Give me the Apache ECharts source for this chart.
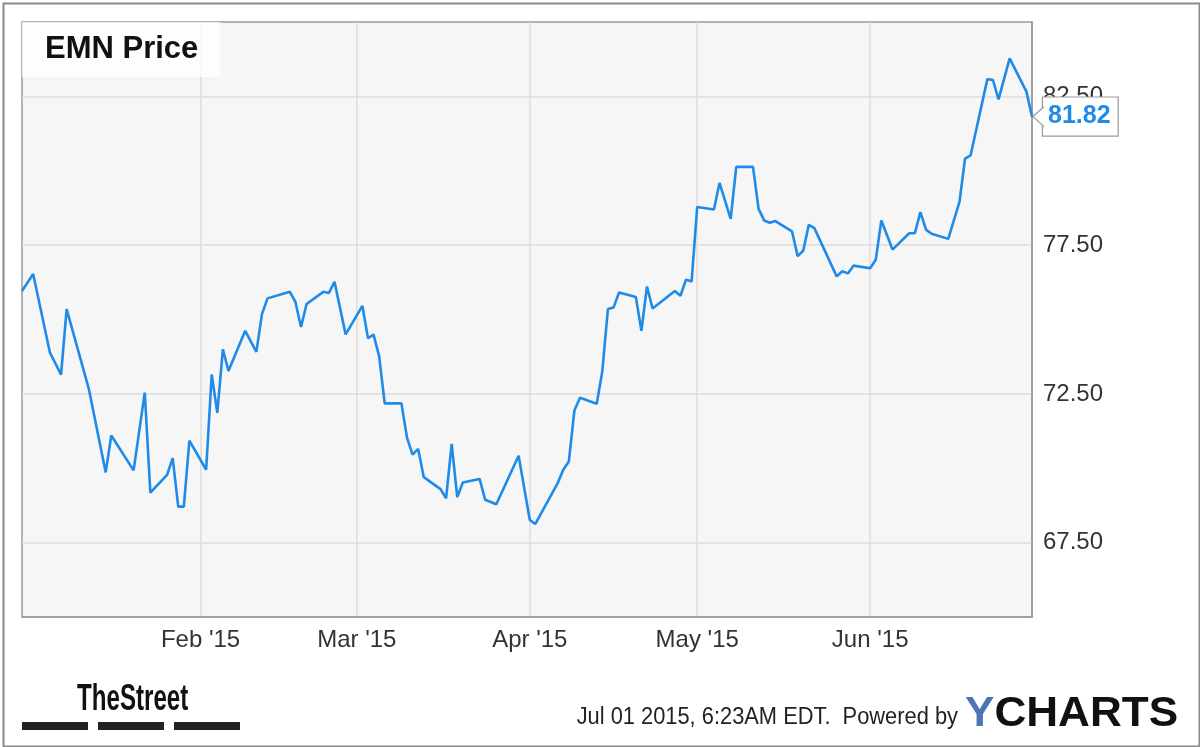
<!DOCTYPE html>
<html>
<head>
<meta charset="utf-8">
<script src="https://cdn.jsdelivr.net/npm/echarts@6/dist/echarts.min.js"></script>
<style>
html,body{margin:0;padding:0;background:#fff;}
#c{width:1200px;height:747px;}
</style>
</head>
<body>
<div id="c"></div>
<script>
// ---- data ----
const dates = [
 '2014-12-31','2015-01-02','2015-01-05','2015-01-07','2015-01-08','2015-01-12','2015-01-15','2015-01-16',
 '2015-01-20','2015-01-22','2015-01-23','2015-01-26','2015-01-27','2015-01-28','2015-01-29','2015-01-30',
 '2015-02-02','2015-02-03','2015-02-04','2015-02-05','2015-02-06','2015-02-09','2015-02-11','2015-02-12',
 '2015-02-13','2015-02-17','2015-02-18','2015-02-19','2015-02-20','2015-02-23','2015-02-24','2015-02-25',
 '2015-02-27','2015-03-02','2015-03-03','2015-03-04','2015-03-05','2015-03-06','2015-03-09','2015-03-10',
 '2015-03-11','2015-03-12','2015-03-13','2015-03-16','2015-03-17','2015-03-18','2015-03-19','2015-03-20',
 '2015-03-23','2015-03-24','2015-03-26','2015-03-30','2015-04-01','2015-04-02','2015-04-06','2015-04-07',
 '2015-04-08','2015-04-09','2015-04-10','2015-04-13','2015-04-14','2015-04-15','2015-04-16','2015-04-17',
 '2015-04-20','2015-04-21','2015-04-22','2015-04-23','2015-04-27','2015-04-28','2015-04-29','2015-04-30',
 '2015-05-01','2015-05-04','2015-05-05','2015-05-07','2015-05-08','2015-05-11','2015-05-12','2015-05-13',
 '2015-05-14','2015-05-15','2015-05-18','2015-05-19','2015-05-20','2015-05-21','2015-05-22','2015-05-26',
 '2015-05-27','2015-05-28','2015-05-29','2015-06-01','2015-06-02','2015-06-03','2015-06-05','2015-06-08',
 '2015-06-09','2015-06-10','2015-06-11','2015-06-12','2015-06-15','2015-06-17','2015-06-18','2015-06-19',
 '2015-06-22','2015-06-23','2015-06-24','2015-06-26','2015-06-29','2015-06-30'
];
const prices = [
 75.96,76.53,73.89,73.15,75.35,72.65,69.86,71.10,
 69.93,72.54,69.18,69.78,70.34,68.71,68.71,70.93,
 69.95,73.15,71.86,74.00,73.27,74.62,73.91,75.18,
 75.71,75.93,75.59,74.75,75.52,75.93,75.89,76.27,
 74.50,75.46,74.37,74.49,73.77,72.18,72.18,71.02,
 70.46,70.65,69.70,69.30,68.99,70.82,69.03,69.52,
 69.64,68.94,68.79,70.42,68.26,68.13,69.50,69.95,
 70.23,71.95,72.37,72.17,73.27,75.35,75.40,75.91,
 75.76,74.62,76.11,75.37,75.96,75.80,76.34,76.28,
 78.78,78.70,79.59,78.38,80.13,80.13,78.72,78.33,
 78.25,78.31,77.96,77.13,77.31,78.18,78.07,76.45,
 76.62,76.55,76.81,76.72,77.01,78.33,77.35,77.90,
 77.90,78.61,78.02,77.88,77.71,78.95,80.41,80.52,
 83.08,83.05,82.40,83.78,82.66,81.82
];
const xTickDates = ['2015-02-01','2015-03-01','2015-04-01','2015-05-01','2015-06-01'];
const yTickValues = [67.5, 72.5, 77.5, 82.5];
const monthNames = ['Jan','Feb','Mar','Apr','May','Jun','Jul','Aug','Sep','Oct','Nov','Dec'];
const titleText = 'EMN Price';
const footerText = 'Jul 01 2015, 6:23AM EDT.  Powered by';

// ---- chart ----
const toTs = s => { const p = s.split('-').map(Number); return Date.UTC(p[0], p[1] - 1, p[2]); };
const chart = echarts.init(document.getElementById('c'), null, {renderer:'canvas'});
const seriesData = dates.map((d, i) => [toTs(d), prices[i]]);
const xTicks = xTickDates.map(toTs);
const FONT = "'Liberation Sans', Arial, sans-serif";
const BLUE = '#1f8ae8';

const option = {
  animation: false,
  backgroundColor: '#ffffff',
  title: {
    text: titleText,
    left: 22, top: 22,
    padding: [12, 22, 12, 23],
    backgroundColor: 'rgba(255,255,255,0.75)',
    textStyle: {fontFamily: FONT, fontWeight: 'bold', fontSize: 31, lineHeight: 31, color: '#111'}
  },
  grid: {
    left: 22, right: 168, top: 22, bottom: 130,
    show: true, backgroundColor: '#f6f6f6', borderColor: '#9a9a9a', borderWidth: 1.5
  },
  xAxis: {
    type: 'value',
    min: toTs(dates[0]), max: toTs(dates[dates.length - 1]),
    axisLine: {show: true, lineStyle: {color: '#9a9a9a', width: 1.5}},
    axisTick: {show: false, customValues: xTicks},
    splitLine: {show: true, lineStyle: {color: '#dcdcdc', width: 1.5}},
    axisLabel: {
      customValues: xTicks,
      margin: 11,
      showMinLabel: true, showMaxLabel: true, hideOverlap: false,
      fontFamily: FONT, fontSize: 24, color: '#333',
      formatter: v => { const d = new Date(v); return monthNames[d.getUTCMonth()] + " '" + String(d.getUTCFullYear()).slice(2); }
    }
  },
  yAxis: {
    type: 'value', position: 'right',
    min: 65, max: 85,
    axisLine: {show: true, lineStyle: {color: '#9a9a9a', width: 1.5}},
    axisTick: {show: false, customValues: yTickValues},
    splitLine: {show: true, lineStyle: {color: '#dcdcdc', width: 1.5}},
    axisLabel: {
      customValues: yTickValues,
      margin: 11,
      showMinLabel: true, showMaxLabel: true,
      fontFamily: FONT, fontSize: 24, color: '#333',
      formatter: v => v.toFixed(2)
    }
  },
  series: [{
    type: 'line',
    data: seriesData,
    showSymbol: false,
    symbol: 'none',
    lineStyle: {color: BLUE, width: 2.6},
    itemStyle: {color: BLUE},
    z: 5,
    endLabel: {
      show: true,
      distance: 11,
      formatter: p => p.value[1].toFixed(2),
      fontFamily: FONT, fontWeight: 'bold', fontSize: 25, color: BLUE,
      backgroundColor: '#ffffff', borderColor: '#9a9a9a', borderWidth: 1.2,
      padding: [6, 7, 4, 5], lineHeight: 28
    },
    markPoint: {
      silent: true,
      z: 10,
      symbol: 'path://M11,0 L0,10 L11,20',
      symbolSize: [11, 20],
      symbolOffset: [6.5, 0],
      symbolKeepAspect: false,
      itemStyle: {color: '#ffffff', borderColor: '#9a9a9a', borderWidth: 1.2},
      label: {show: false},
      data: [{coord: seriesData[seriesData.length - 1]}]
    }
  }],
  graphic: [
    {type: 'rect', left: 1, top: 1, shape: {width: 1196, height: 743},
     style: {fill: 'none', stroke: '#8a8a8a', lineWidth: 2}, silent: true},
    {type: 'text', left: 77, top: 682,
     style: {text: 'TheStreet', font: "bold 36px 'Liberation Sans', Arial, sans-serif", fill: '#111'},
     scaleX: 0.67},
    {type: 'rect', left: 22, top: 722, shape: {width: 66, height: 8}, style: {fill: '#222'}},
    {type: 'rect', left: 98, top: 722, shape: {width: 66, height: 8}, style: {fill: '#222'}},
    {type: 'rect', left: 174, top: 722, shape: {width: 66, height: 8}, style: {fill: '#222'}},
    {type: 'text', right: 242, top: 706,
     style: {text: footerText, font: "23px 'Liberation Sans', Arial, sans-serif", fill: '#222'},
     scaleX: 0.95},
    {type: 'text', left: 965, top: 693,
     style: {
       text: '{y|Y}{c|CHARTS}',
       rich: {
         y: {font: "bold 42px 'Liberation Sans', Arial, sans-serif", fill: '#4b76b5'},
         c: {font: "bold 42px 'Liberation Sans', Arial, sans-serif", fill: '#111'}
       }
     },
     scaleX: 1.05}
  ]
};
chart.setOption(option);
</script>
</body>
</html>
